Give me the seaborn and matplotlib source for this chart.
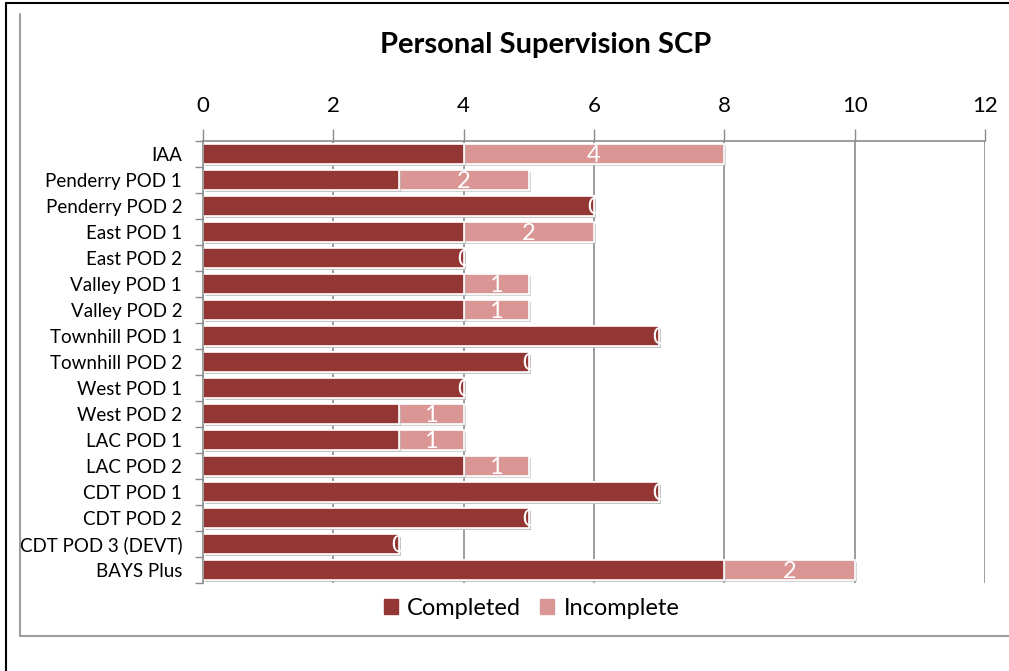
import matplotlib
matplotlib.use("Agg")
import matplotlib.pyplot as plt
from matplotlib.lines import Line2D
import matplotlib.patheffects as pe
import numpy as np
import pandas as pd
import seaborn as sns

teams = ["IAA", "Penderry POD 1", "Penderry POD 2", "East POD 1", "East POD 2",
         "Valley POD 1", "Valley POD 2", "Townhill POD 1", "Townhill POD 2",
         "West POD 1", "West POD 2", "LAC POD 1", "LAC POD 2", "CDT POD 1",
         "CDT POD 2", "CDT POD 3 (DEVT)", "BAYS Plus"]
completed = [4, 3, 6, 4, 4, 4, 4, 7, 5, 4, 3, 3, 4, 7, 5, 3, 8]
incomplete = [4, 2, 0, 2, 0, 1, 1, 0, 0, 0, 1, 1, 1, 0, 0, 0, 2]
x_ticks = [0, 2, 4, 6, 8, 10, 12]

dark = "#943634"
light = "#D99694"
grey = "#8c8c8c"

sns.set_theme(style="white")
plt.rcParams["font.family"] = ["Lato", "DejaVu Sans"]
plt.rcParams["text.color"] = "black"

df = pd.DataFrame({"team": teams, "Completed": completed, "Incomplete": incomplete})
df["total"] = df["Completed"] + df["Incomplete"]

fig = plt.figure(figsize=(10.09, 6.71), dpi=100)
ax = fig.add_axes([0.2012, 0.1311, 0.775, 0.6588])

shadow = [pe.SimplePatchShadow(offset=(1.5, -1.5), shadow_rgbFace="#bbbbbb", alpha=0.6), pe.Normal()]
sns.barplot(data=df, y="team", x="total", color=light, width=0.75, saturation=1,
            edgecolor="white", linewidth=1.2, ax=ax, orient="h")
sns.barplot(data=df, y="team", x="Completed", color=dark, width=0.75, saturation=1,
            edgecolor="white", linewidth=1.2, ax=ax, orient="h")
for p in ax.patches:
    p.set_path_effects(shadow)

# value labels for incomplete
for i, (c, n) in enumerate(zip(completed, incomplete)):
    ax.text(c + n / 2, i + 0.05, str(n), color="white", fontsize=17, ha="center", va="center")

ax.set_xlim(0, 12)
ax.set_ylim(16.5, -0.5)
ax.set_xticks(x_ticks)
ax.xaxis.tick_top()
ax.tick_params(axis="x", which="major", top=True, bottom=False, length=9, width=1,
               color=grey, labelsize=16, pad=9, labelcolor="black")
ax.grid(axis="x", color=grey, linewidth=1.2)
ax.set_axisbelow(True)
ax.set_xlabel("")
ax.set_ylabel("")

ax.set_yticks(np.arange(-0.5, 17, 1), minor=True)
ax.tick_params(axis="y", which="major", length=0, labelsize=13.5, pad=15, labelcolor="black")
ax.tick_params(axis="y", which="minor", left=True, length=6, width=1, color=grey)

for side in ["right", "bottom"]:
    ax.spines[side].set_visible(False)
for side in ["top", "left"]:
    ax.spines[side].set_color(grey)
    ax.spines[side].set_linewidth(1.2)

fig.suptitle("Personal Supervision SCP", x=0.541, y=0.952, fontsize=21, fontweight="bold",
             color="black")

handles = [plt.Rectangle((0, 0), 1, 1, color=dark), plt.Rectangle((0, 0), 1, 1, color=light)]
fig.legend(handles, ["Completed", "Incomplete"], loc="center", bbox_to_anchor=(0.527, 0.093),
           ncol=2, frameon=False, fontsize=17, handlelength=0.6, handleheight=0.6,
           handletextpad=0.4, columnspacing=0.8, labelcolor="black")

# frame lines
fig.add_artist(Line2D([6 / 1009, 6 / 1009], [0, 1 - 3 / 671], color="black", linewidth=1.5))
fig.add_artist(Line2D([6 / 1009, 1], [1 - 3 / 671, 1 - 3 / 671], color="black", linewidth=1.5))
fig.add_artist(Line2D([20 / 1009, 20 / 1009], [1 - 636 / 671, 1 - 14 / 671], color="#a0a0a0", linewidth=1.5))
fig.add_artist(Line2D([20 / 1009, 1], [1 - 636 / 671, 1 - 636 / 671], color="#a0a0a0", linewidth=1.5))

fig.savefig("out.png", dpi=100)
